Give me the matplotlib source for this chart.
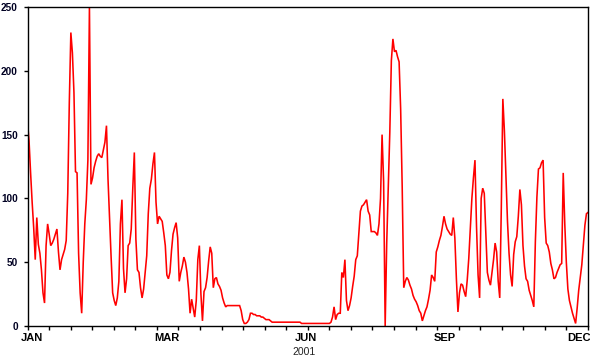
import numpy as np
import matplotlib
matplotlib.use("Agg")
import matplotlib.pyplot as plt

# ---- data (daily values, 2001) ----
values_jan_may = [
    160, 145, 120, 97, 77, 52, 85, 64, 57, 44,
    26, 18, 63, 80, 72, 63, 65, 68, 72, 76,
    58, 44, 52, 56, 60, 67, 104, 175, 230, 214,
    183, 121, 120, 57, 26, 10, 50, 80, 99, 130,
    250, 111, 116, 124, 129, 133, 135, 133, 132, 138,
    144, 157, 115, 84, 54, 26, 20, 16, 22, 35,
    80, 99, 45, 26, 37, 63, 65, 76, 108, 136,
    68, 44, 42, 30, 22, 29, 42, 55, 88, 108,
    115, 127, 136, 97, 80, 86, 84, 82, 73, 63,
    40, 37, 42, 59, 72, 77, 81, 69, 35, 42,
    47, 54, 50, 42, 29, 10, 21, 14, 7, 20,
    52, 63, 25, 4, 27, 30, 38, 51, 62, 57,
    30, 37, 38, 33,
]
values_may_aug = [
    31, 28, 22, 18, 15, 16, 16, 16, 16, 16,
    16, 16, 16, 16, 12, 5, 2, 2, 3, 5,
    10, 10, 9, 9, 8, 8, 8, 7, 7, 6,
    5, 5, 5, 4, 3, 3, 3, 3, 3, 3,
    3, 3, 3, 3, 3, 3, 3, 3, 3, 3,
    3, 3, 3, 2, 2, 2, 2, 2, 2, 2,
    2, 2, 2, 2, 2, 2, 2, 2, 2, 2,
    2, 2, 3, 7, 15, 5, 9, 10, 10, 42,
    38, 52, 20, 12, 16, 22, 31, 39, 52, 55,
    72, 90, 94, 95, 97, 99, 90, 87,
]
values_aug_dec = [
    74, 74, 74, 73, 71, 80, 100, 150, 113, 0,
    65, 110, 152, 208, 225, 215, 216, 211, 207, 170,
    109, 30, 35, 38, 36, 32, 29, 24, 21, 19,
    16, 12, 10, 4, 8, 12, 15, 21, 28, 40,
    38, 35, 58, 62, 67, 71, 78, 86, 80, 76,
    74, 72, 71, 85, 69, 37, 11, 26, 33, 32,
    27, 23, 36, 53, 76, 100, 116, 130, 78, 40,
    22, 100, 108, 104, 73, 42, 36, 32, 42, 52,
    65, 58, 35, 22, 92, 178, 153, 118, 82, 57,
    40, 31, 56, 66, 70, 86, 107, 95, 63, 47,
    37, 35, 28, 24, 20, 15, 66, 101, 123, 124,
    128, 130, 85, 65, 63, 58, 49, 44, 37, 38,
    42, 45, 48, 49, 120, 80, 50, 29, 20, 15,
    10, 6, 2, 14, 28, 38, 48, 63, 79, 88,
    89,
]
values = values_jan_may + values_may_aug + values_aug_dec
days = np.arange(len(values))

month_labels = ["JAN", "MAR", "JUN", "SEP", "DEC"]
month_label_days = [3, 90, 180, 269.5, 356]
y_ticks = [0, 50, 100, 150, 200, 250]
year_label = "2001"

# ---- figure ----
plt.rcParams['font.family'] = ['Liberation Sans', 'DejaVu Sans']
fig = plt.figure(figsize=(5.9, 3.6), dpi=100)
ax = fig.add_axes([27.5 / 590, 1 - 326 / 360, (588 - 27.5) / 590, (326 - 7) / 360])

ax.plot(days, values, color="#ff0000", lw=1.15, solid_joinstyle="miter")

last = len(values) - 1
ax.set_xlim(0, last)
ax.set_ylim(0, 250)

ax.set_yticks(y_ticks)
ax.set_yticklabels([str(v) for v in y_ticks], fontsize=7.2, fontweight="bold")
ax.tick_params(axis="y", direction="out", length=3, width=1, pad=4, colors="black")
for lab in ax.get_yticklabels():
    lab.set_color("#000022")

ax.set_xticks(np.linspace(0, last, 27), minor=True)
ax.set_xticks(month_label_days)
ax.set_xticklabels(month_labels, fontsize=8, fontweight="bold")
ax.tick_params(axis="x", which="major", length=0, pad=5)
ax.tick_params(axis="x", which="minor", direction="out", length=3, width=1)

ax.text(0.493, -0.081, year_label, transform=ax.transAxes, ha="center", va="center",
        fontsize=7.5, color="#222222")

for s in ax.spines.values():
    s.set_linewidth(1.0)
    s.set_color("black")

fig.savefig("out.png", dpi=100)
